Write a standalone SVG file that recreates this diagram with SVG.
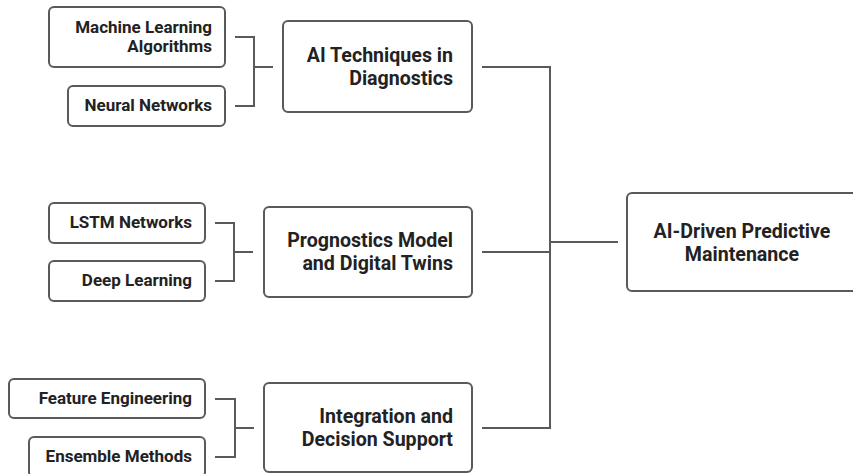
<svg xmlns="http://www.w3.org/2000/svg" width="853" height="474" viewBox="0 0 853 474">
  <style>
    .box { fill: #ffffff; stroke: #5a5a5a; stroke-width: 2; }
    .wire { fill: none; stroke: #5a5a5a; stroke-width: 2; }
    .t { font-family: Roboto, "Liberation Sans", sans-serif; font-weight: 700; fill: #222222; }
    .leaf { font-size: 17px; text-anchor: end; }
    .main { font-size: 19.6px; text-anchor: end; }
    .root { font-size: 19.6px; text-anchor: middle; }
  </style>
  <rect width="853" height="474" fill="#ffffff"/>

  <g id="connectors">
    <!-- diagnostics branch -->
    <path class="wire" d="M235 37 H254 V106 H235 M254 67 H273"/>
    <!-- prognostics branch -->
    <path class="wire" d="M215 223 H234 V281 H215 M234 252 H253"/>
    <!-- integration branch -->
    <path class="wire" d="M215 399 H235 V457 H215 M235 428 H254"/>
    <!-- trunk to the root node -->
    <path class="wire" d="M482 67 H550 V428 H482 M482 252 H550 M550 242 H618"/>
  </g>

  <g id="ml-algorithms">
    <rect class="box" x="49" y="7" width="176" height="60" rx="5"/>
    <text class="t leaf" x="212" y="33">Machine Learning</text>
    <text class="t leaf" x="212" y="52">Algorithms</text>
  </g>
  <g id="neural-networks">
    <rect class="box" x="68" y="86" width="157" height="40" rx="5"/>
    <text class="t leaf" x="212" y="111">Neural Networks</text>
  </g>
  <g id="ai-diagnostics">
    <rect class="box" x="283" y="21" width="189" height="91" rx="5"/>
    <text class="t main" x="453" y="61.5">AI Techniques in</text>
    <text class="t main" x="453" y="84.5">Diagnostics</text>
  </g>

  <g id="lstm-networks">
    <rect class="box" x="49" y="203" width="156" height="40" rx="5"/>
    <text class="t leaf" x="192" y="228">LSTM Networks</text>
  </g>
  <g id="deep-learning">
    <rect class="box" x="49" y="261" width="156" height="40" rx="5"/>
    <text class="t leaf" x="192" y="286">Deep Learning</text>
  </g>
  <g id="prognostics">
    <rect class="box" x="264" y="207" width="208" height="90" rx="5"/>
    <text class="t main" x="453" y="247">Prognostics Model</text>
    <text class="t main" x="453" y="270">and Digital Twins</text>
  </g>

  <g id="feature-engineering">
    <rect class="box" x="9" y="379" width="196" height="39" rx="5"/>
    <text class="t leaf" x="192" y="404">Feature Engineering</text>
  </g>
  <g id="ensemble-methods">
    <rect class="box" x="29" y="437" width="176" height="40" rx="5"/>
    <text class="t leaf" x="192" y="462">Ensemble Methods</text>
  </g>
  <g id="integration">
    <rect class="box" x="264" y="383" width="208" height="89" rx="5"/>
    <text class="t main" x="453" y="422.5">Integration and</text>
    <text class="t main" x="453" y="445.5">Decision Support</text>
  </g>

  <g id="predictive-maintenance">
    <rect class="box" x="627" y="193" width="240" height="98" rx="5"/>
    <text class="t root" x="742" y="238">AI-Driven Predictive</text>
    <text class="t root" x="742" y="261">Maintenance</text>
  </g>
</svg>
